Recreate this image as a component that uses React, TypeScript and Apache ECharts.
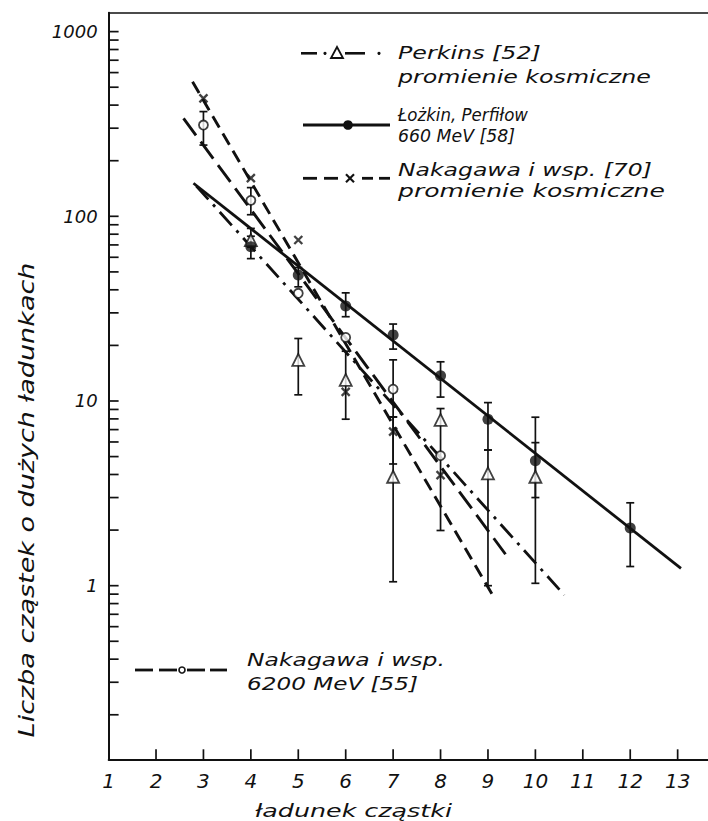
import React, { useEffect, useRef } from "react";
import * as echarts from "echarts";

const INK = "#111111";
const FONT = '"DejaVu Sans", "Liberation Sans", sans-serif';

// Axis ranges: particle charge (linear) and number of particles (log)
const chargeMin = 1;
const chargeMax = 13.64;
const countMin = 0.1148;
const countMax = 1266;

const chargeTickValues = [2, 3, 4, 5, 6, 7, 8, 9, 10, 11, 12, 13];
const countDecades = [0.1, 1, 10, 100, 1000];
const countMantissas = [1, 2, 3, 4, 5, 6, 7, 8, 9];

// Łożkin, Perfiłow — 660 MeV [58]
const lozkinZ = [4, 5, 6, 7, 8, 9, 10, 12];
const lozkinN = [68.4, 48.1, 32.7, 22.8, 13.7, 7.96, 4.75, 2.05];
const lozkinLow = [59, 41.5, 28.6, 19.1, 10.5, 5.43, 3.0, 1.27];
const lozkinHigh = [78, 52.8, 38.5, 26.1, 16.3, 9.8, 8.17, 2.81];
const lozkinFit = [[2.79, 151], [13.07, 1.24]];

// Perkins [52] — cosmic rays
const perkinsZ = [4, 5, 6, 7, 8, 9, 10];
const perkinsN = [74.3, 16.7, 13.0, 3.89, 7.9, 4.06, 3.89];
const perkinsLow = [68, 10.8, 7.97, 1.05, 1.99, 1.0, 1.03];
const perkinsHigh = [86, 21.8, 18.6, 8.2, 9.1, 5.43, 5.95];
const perkinsFit = [[2.85, 146], [10.61, 0.89]];

// Nakagawa i wsp. [70] — cosmic rays
const nak70Z = [3, 4, 5, 6, 7, 8];
const nak70N = [435, 161, 74.4, 11.2, 6.83, 3.97];
const nak70Low = [null, null, null, null, 4.56, null];
const nak70High = [null, null, null, null, 8.2, null];
const nak70Fit = [[2.77, 535], [9.13, 0.861]];

// Nakagawa i wsp. — 6200 MeV [55]
const nak55Z = [3, 4, 5, 6, 7, 8];
const nak55N = [312, 122, 38.3, 22.1, 11.6, 5.06];
const nak55Low = [243, 102, null, null, 8.2, null];
const nak55High = [369, 143, null, null, 16.7, null];
const nak55Fit = [[2.58, 339], [9.37, 1.48]];

const legendLines = [
  "Perkins [52]",
  "promienie kosmiczne",
  "Łożkin, Perfiłow",
  "660 MeV [58]",
  "Nakagawa i wsp. [70]",
  "promienie kosmiczne",
  "Nakagawa i wsp.",
  "6200 MeV [55]",
];
const xTitle = "ładunek cząstki";
const yTitle = "Liczba cząstek o dużych ładunkach";

let measureCtx: CanvasRenderingContext2D | null = null;
function stretchTo(text: string, size: number, width: number): number {
  if (!measureCtx) measureCtx = document.createElement("canvas").getContext("2d");
  if (!measureCtx) return 1;
  measureCtx.font = `italic ${size}px ${FONT}`;
  const w = measureCtx.measureText(text).width;
  return w > 0 ? width / w : 1;
}

function label(text: string, x: number, y: number, size: number, width: number, align = "left", rotation = 0) {
  return {
    type: "text",
    x,
    y,
    rotation,
    scaleX: stretchTo(text, size, width),
    silent: true,
    z: 10,
    style: { text, fill: INK, fontSize: size, fontStyle: "italic", fontFamily: FONT, align, verticalAlign: "middle" },
  };
}

function seg(x1: number, y1: number, x2: number, y2: number, w = 2.6) {
  return { type: "line", silent: true, z: 10, shape: { x1, y1, x2, y2 }, style: { stroke: INK, lineWidth: w } };
}

function dot(cx: number, cy: number, r: number, fill = INK, lw = 0) {
  return { type: "circle", silent: true, z: 11, shape: { cx, cy, r }, style: { fill, stroke: INK, lineWidth: lw } };
}

function errorBars(z: number[], low: (number | null)[], high: (number | null)[]) {
  const data: number[][] = [];
  z.forEach((v, i) => {
    const lo = low[i];
    const hi = high[i];
    if (lo != null && hi != null) data.push([v, lo, hi]);
  });
  return {
    type: "custom",
    data,
    encode: { x: 0, y: [1, 2] },
    z: 3,
    silent: true,
    clip: false,
    renderItem: (_params: any, api: any) => {
      const x = api.value(0);
      const top = api.coord([x, api.value(2)]);
      const bottom = api.coord([x, api.value(1)]);
      const cap = 4;
      const st = { stroke: INK, lineWidth: 1.7 };
      return {
        type: "group",
        children: [
          { type: "line", shape: { x1: top[0], y1: top[1], x2: bottom[0], y2: bottom[1] }, style: st },
          { type: "line", shape: { x1: top[0] - cap, y1: top[1], x2: top[0] + cap, y2: top[1] }, style: st },
          { type: "line", shape: { x1: bottom[0] - cap, y1: bottom[1], x2: bottom[0] + cap, y2: bottom[1] }, style: st },
        ],
      };
    },
  };
}

function fitLine(points: number[][], width: number, dash: number[] | "solid") {
  return {
    type: "line",
    data: points,
    symbol: "none",
    showSymbol: false,
    silent: true,
    z: 2,
    lineStyle: { color: INK, width, type: dash },
  };
}

function pairs(z: number[], n: number[]) {
  return z.map((v, i) => [v, n[i]]);
}

export default function App() {
  const ref = useRef<HTMLDivElement>(null);

  useEffect(() => {
    if (!ref.current) return;
    const chart = echarts.init(ref.current, undefined, { renderer: "svg" });

    // inward ticks along both axes: [charge, count, kind]; kind 0 = count axis, 1 = charge axis
    const tickData: number[][] = [];
    countDecades.forEach((d) => {
      countMantissas.forEach((m) => {
        const v = +(m * d).toPrecision(6);
        if (v >= countMin && v <= countMax) tickData.push([chargeMin, v, 0]);
      });
    });
    chargeTickValues.forEach((z) => tickData.push([z, countMin, 1]));

    const graphic: any[] = [
      // Perkins
      seg(301, 53.3, 317, 53.3),
      dot(325, 53.3, 1.6),
      {
        type: "polygon",
        silent: true,
        z: 11,
        shape: { points: [[337, 47], [331, 58], [343, 58]] },
        style: { fill: "#fff", stroke: INK, lineWidth: 1.8 },
      },
      seg(345, 53.3, 365, 53.3),
      dot(379, 53.3, 1.6),
      label(legendLines[0], 398, 53, 18, 143),
      label(legendLines[1], 398, 77, 18, 253),
      // Łożkin, Perfiłow
      seg(303, 125, 390, 125, 2.8),
      dot(348, 125, 4.8),
      label(legendLines[2], 398, 115, 18, 130),
      label(legendLines[3], 398, 136, 18, 117),
      // Nakagawa [70]
      seg(303, 178.3, 317, 178.3, 2.8),
      seg(324, 178.3, 338, 178.3, 2.8),
      seg(362, 178.3, 373, 178.3, 2.8),
      seg(379, 178.3, 390, 178.3, 2.8),
      seg(346, 174.3, 354, 182.3, 2.2),
      seg(346, 182.3, 354, 174.3, 2.2),
      label(legendLines[4], 398, 170, 18, 254),
      label(legendLines[5], 398, 191, 18, 267),
      // Nakagawa 6200 MeV
      seg(135, 670, 153, 670, 2.8),
      seg(159, 670, 177, 670, 2.8),
      seg(187, 670, 205, 670, 2.8),
      seg(210, 670, 227, 670, 2.8),
      dot(182, 670, 3, "#fff", 1.6),
      label(legendLines[6], 247, 660, 18, 198),
      label(legendLines[7], 247, 683.5, 18, 171),
      // axis titles
      label(xTitle, 353.5, 811, 18, 197, "center"),
      label(yTitle, 26, 500, 22, 475, "center", Math.PI / 2),
    ];

    chart.setOption({
      animation: false,
      backgroundColor: "#ffffff",
      grid: { left: 108.6, right: 0, top: 12.7, bottom: 61.7, containLabel: false, outerBoundsMode: "none" },
      xAxis: [
        {
          type: "value",
          min: chargeMin,
          max: chargeMax,
          interval: 1,
          axisLine: { show: true, onZero: false, lineStyle: { color: INK, width: 1.8 } },
          axisTick: { show: false },
          splitLine: { show: false },
          axisLabel: {
            formatter: (v: number) => (Number.isInteger(v) ? String(v) : ""),
            fontSize: 20,
            fontStyle: "italic",
            fontFamily: FONT,
            color: INK,
            margin: 12,
          },
        },
        {
          type: "value",
          position: "top",
          min: chargeMin,
          max: chargeMax,
          axisLine: { show: true, onZero: false, lineStyle: { color: INK, width: 1.5 } },
          axisTick: { show: false },
          axisLabel: { show: false },
          splitLine: { show: false },
        },
      ],
      yAxis: {
        type: "log",
        logBase: 10,
        min: countMin,
        max: countMax,
        axisLine: { show: true, onZero: false, lineStyle: { color: INK, width: 2 } },
        axisTick: { show: false },
        minorTick: { show: false },
        splitLine: { show: false },
        axisLabel: {
          formatter: (v: number) => {
            const e = Math.log10(v);
            return Math.abs(e - Math.round(e)) < 1e-6 && v >= 1 ? String(Math.round(v)) : "";
          },
          fontSize: 18,
          fontStyle: "italic",
          fontFamily: FONT,
          color: INK,
          margin: 11,
        },
      },
      series: [
        {
          type: "custom",
          data: tickData,
          encode: { x: 0, y: 1 },
          silent: true,
          clip: false,
          z: 1,
          renderItem: (_params: any, api: any) => {
            const p = api.coord([api.value(0), api.value(1)]);
            const vertical = api.value(2) === 1;
            return {
              type: "line",
              shape: vertical
                ? { x1: p[0], y1: p[1], x2: p[0], y2: p[1] - 10 }
                : { x1: p[0], y1: p[1], x2: p[0] + 10, y2: p[1] },
              style: { stroke: INK, lineWidth: 1.7 },
            };
          },
        },
        fitLine(lozkinFit, 2.8, "solid"),
        fitLine(perkinsFit, 2.8, [18, 7, 3, 7]),
        fitLine(nak70Fit, 2.9, [13, 7]),
        fitLine(nak55Fit, 2.9, [21, 8]),
        errorBars(lozkinZ, lozkinLow, lozkinHigh),
        errorBars(perkinsZ, perkinsLow, perkinsHigh),
        errorBars(nak70Z, nak70Low, nak70High),
        errorBars(nak55Z, nak55Low, nak55High),
        {
          type: "scatter",
          name: "Perkins [52]",
          data: pairs(perkinsZ, perkinsN),
          symbol: "triangle",
          symbolSize: 12,
          z: 5,
          itemStyle: { color: "#ffffff", borderColor: INK, borderWidth: 1.8 },
        },
        {
          type: "scatter",
          name: "Nakagawa i wsp. [70]",
          data: pairs(nak70Z, nak70N),
          symbol: "path://M0,0L10,10M0,10L10,0",
          symbolSize: 8,
          z: 5,
          itemStyle: { color: "rgba(0,0,0,0)", borderColor: INK, borderWidth: 2.3 },
        },
        {
          type: "scatter",
          name: "Nakagawa i wsp. 6200 MeV [55]",
          data: pairs(nak55Z, nak55N),
          symbol: "circle",
          symbolSize: 9,
          z: 5,
          itemStyle: { color: "#ffffff", borderColor: INK, borderWidth: 1.8 },
        },
        {
          type: "scatter",
          name: "Łożkin, Perfiłow 660 MeV [58]",
          data: pairs(lozkinZ, lozkinN),
          symbol: "circle",
          symbolSize: 11,
          z: 6,
          itemStyle: { color: INK },
        },
      ],
      graphic,
    });

    return () => chart.dispose();
  }, []);

  return (
    <div
      ref={ref}
      style={{ position: "fixed", left: 0, top: 0, width: 708, height: 821, background: "#ffffff" }}
    />
  );
}
